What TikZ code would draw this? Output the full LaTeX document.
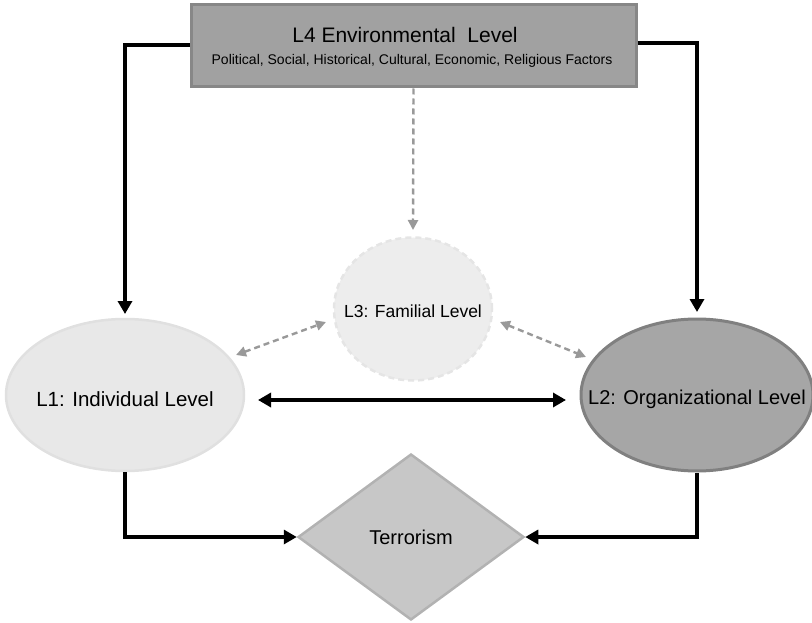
\documentclass[tikz,border=0pt]{standalone}
\usepackage{fontspec}
\setmainfont{Liberation Sans}
\usetikzlibrary{shapes.geometric,arrows.meta}
\begin{document}
\begin{tikzpicture}[x=1pt,y=-1pt,
  solidarrow/.style={line width=3.4pt,-{Triangle[length=13pt,width=14pt]}},
  dasharrow/.style={draw=black!40,line width=2.4pt,dash pattern=on 6pt off 4pt,-{Triangle[length=10pt,width=10pt]}},
  dashboth/.style={draw=black!40,line width=2.4pt,dash pattern=on 6pt off 4pt,{Triangle[length=10pt,width=10pt]}-{Triangle[length=10pt,width=10pt]}},
  lbl/.style={yshift=-4pt}]
\useasboundingbox (0,0) rectangle (812,623);
\node[draw=black!47,fill=black!37,line width=3pt,minimum width=445pt,minimum height=82pt,inner sep=0pt] (L4) at (413.5,46) {};
\node (L4t) at (405,35) {\fontsize{21}{24}\selectfont L4 Environmental\ \ Level};
\node (L4s) at (412,61) {\fontsize{14}{16}\selectfont Political, Social, Historical, Cultural, Economic, Religious Factors};
\node[ellipse,draw=black!10,dash pattern=on 6pt off 4pt,line width=2.5pt,fill=black!7,minimum width=158pt,minimum height=143pt,inner sep=0pt,label={[yshift=-2pt]center:\fontsize{17.5}{20}\selectfont L3: Familial Level}] (L3) at (413,309) {};
\node[ellipse,draw=black!12,fill=black!9,line width=2.5pt,minimum width=238pt,minimum height=152pt,inner sep=0pt,label={[lbl]center:\fontsize{20.5}{24}\selectfont L1: Individual Level}] (L1) at (125,395) {};
\node[ellipse,draw=black!50,fill=black!35,line width=3pt,minimum width=232pt,minimum height=152pt,inner sep=0pt,label={[lbl]center:\fontsize{20}{24}\selectfont L2: Organizational Level}] (L2) at (697,395) {};
\node[diamond,draw=black!30,fill=black!22,line width=2.5pt,minimum width=226pt,minimum height=166pt,inner sep=0pt,label={center:\fontsize{20}{24}\selectfont Terrorism}] (T) at (411,537) {};
\coordinate (c1) at (125,45);
\coordinate (c2) at (697,43);
\coordinate (d1) at (125,537);
\coordinate (d2) at (697,537);
\draw[solidarrow] (L4.west |- c1) -- (c1) -- (125,314);
\draw[solidarrow] (L4.east |- c2) -- (c2) -- (697,312);
\draw[dasharrow] (L4.south) -- (413,230);
\draw[line width=3.4pt,{Triangle[length=13pt,width=14pt]}-{Triangle[length=13pt,width=14pt]}] (258,400) -- (566,400);
\draw[dashboth] (236,355) -- (326,322);
\draw[dashboth] (500,322) -- (586,357);
\draw[solidarrow] (L1.south) -- (d1) -- (T.west);
\draw[solidarrow] (L2.south) -- (d2) -- (T.east);
\end{tikzpicture}
\end{document}
